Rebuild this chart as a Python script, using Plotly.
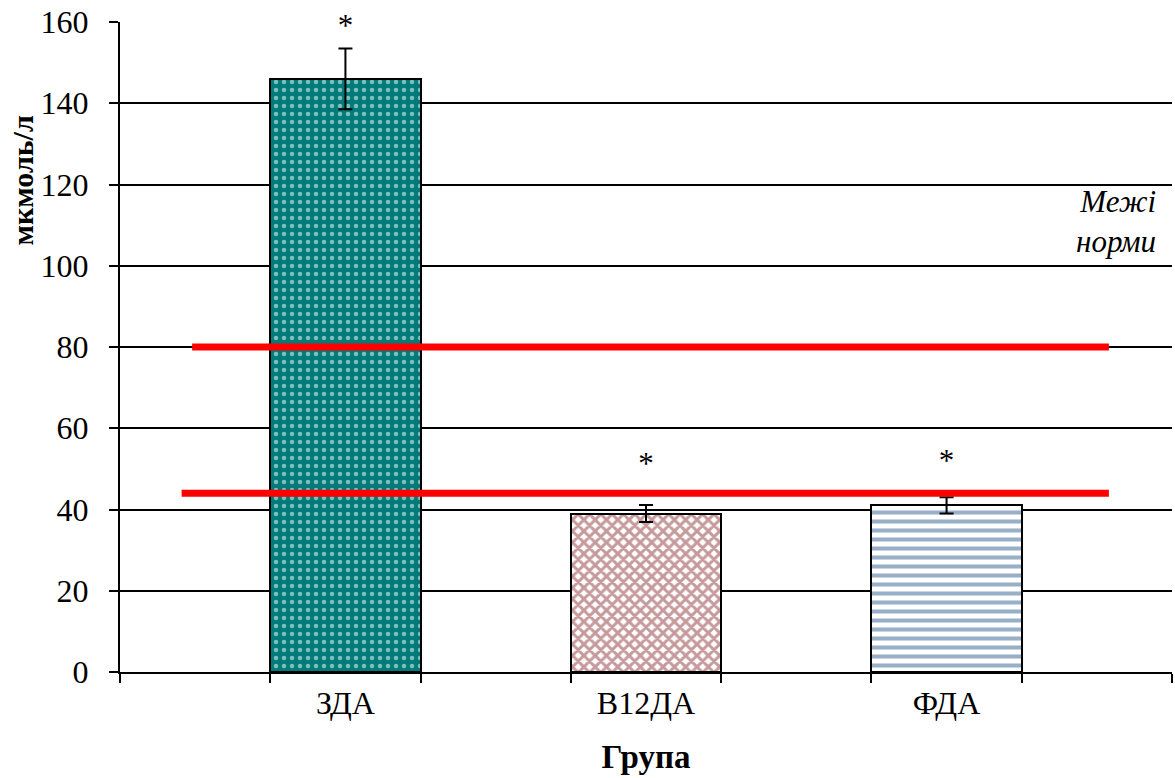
import plotly.graph_objects as go

# Groups and measured values (мкмоль/л)
groups = ["ЗДА", "В12ДА", "ФДА"]
means = [146, 39, 41]
errors = [7.5, 2.1, 2.0]
star_levels = [158.5, 50.7, 51.4]

# Reference range limits
norm_upper = 80
norm_lower = 44

y_ticks = [0, 20, 40, 60, 80, 100, 120, 140, 160]

# Each group sits on every other slot of a 7-slot axis
slots = [1, 3, 5]
fill_colors = ["#007B7A", "white", "white"]
pattern_fg = ["white", "#8E3336", "#2F5F90"]
pattern_shapes = [".", "x", "-"]
pattern_sizes = [8, 8, 9]
pattern_solidity = [0.25, 0.6, 0.45]

FONT = "Times New Roman, Liberation Serif, serif"

fig = go.Figure()

for i, g in enumerate(groups):
    fig.add_trace(go.Bar(
        x=[slots[i]], y=[means[i]], width=1.0, name=g,
        marker=dict(
            color=fill_colors[i],
            line=dict(color="black", width=2),
            pattern=dict(shape=pattern_shapes[i], fgcolor=pattern_fg[i],
                         bgcolor=fill_colors[i], size=pattern_sizes[i],
                         solidity=pattern_solidity[i], fillmode="overlay"),
        ),
        error_y=dict(type="data", array=[errors[i]], color="black",
                     thickness=2, width=7),
        showlegend=False,
    ))

# Normal range lines
for lvl, x0 in ((norm_upper, -0.02), (norm_lower, -0.09)):
    fig.add_trace(go.Scatter(
        x=[x0, 6.08], y=[lvl, lvl], mode="lines",
        line=dict(color="#FF0000", width=7),
        showlegend=False, hoverinfo="skip",
    ))

# Significance markers
fig.add_trace(go.Scatter(
    x=slots, y=star_levels, mode="text", text=["*"] * 3,
    textfont=dict(family=FONT, size=31, color="black"),
    showlegend=False, hoverinfo="skip", cliponaxis=False,
))

fig.add_annotation(
    x=1.0, xref="paper", xanchor="right", xshift=-14,
    y=111, yref="y", yanchor="middle",
    text="<i>Межі<br>норми</i>", showarrow=False, align="right",
    font=dict(family=FONT, size=31, color="black"),
)

# Vertical axis title, set in the upper part of the axis
fig.add_annotation(
    x=0, xref="paper", xshift=-98, xanchor="center",
    y=121, yref="y", yanchor="middle",
    text="<b>мкмоль/л</b>", textangle=-90, showarrow=False,
    font=dict(family=FONT, size=30, color="black"),
)

fig.update_layout(
    width=1175, height=778,
    margin=dict(l=120, r=3, t=22, b=106),
    paper_bgcolor="white", plot_bgcolor="white",
    bargap=0,
    font=dict(family=FONT, size=32, color="black"),
    xaxis=dict(
        range=[-0.5, 6.5], tickvals=slots, ticktext=groups,
        ticks="", showgrid=False, zeroline=False,
        showline=True, linecolor="black", linewidth=2,
        tickfont=dict(family=FONT, size=32, color="black"),
        ticklabelstandoff=2,
        minor=dict(tick0=-0.5, dtick=1, ticks="outside", ticklen=9,
                   tickwidth=2, tickcolor="black", showgrid=False),
        title=dict(text="<b>Група</b>", standoff=24,
                   font=dict(family=FONT, size=33, color="black")),
    ),
    yaxis=dict(
        range=[0, 160], tickvals=y_ticks, ticks="outside", ticklen=9,
        tickwidth=2, tickcolor="black", ticklabelstandoff=14,
        showgrid=True, gridcolor="black", gridwidth=2,
        zeroline=False, showline=True, linecolor="black", linewidth=2,
        tickfont=dict(family=FONT, size=32, color="black"),
    ),
)

fig.write_html("out.html")
